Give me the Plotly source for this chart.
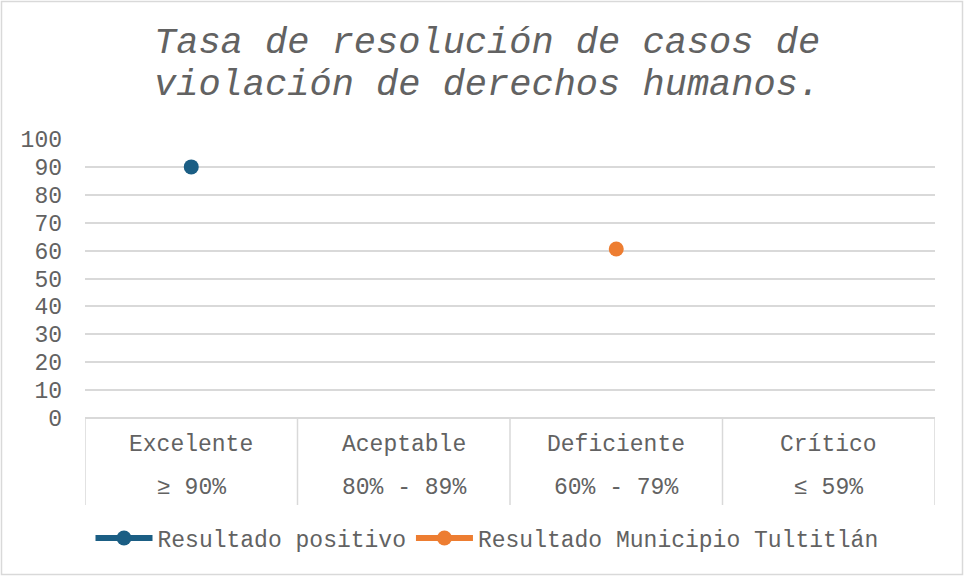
import plotly.graph_objects as go

# Categorías de evaluación y sus rangos
categorias = ["Excelente", "Aceptable", "Deficiente", "Crítico"]
rangos = ["≥ 90%", "80% - 89%", "60% - 79%", "≤ 59%"]

# Series
positivo_cat = ["Excelente"]
positivo_val = [90]
municipio_cat = ["Deficiente"]
municipio_val = [60.6]

y_ticks = list(range(0, 101, 10))

titulo = ["Tasa de resolución de casos de", "violación de derechos humanos."]

AZUL = "#1B5E84"
NARANJA = "#ED7D31"
GRIS = "#626262"
GRID = "#D9D9D9"
FUENTE = "Courier New, Liberation Mono, monospace"

W, H = 964, 576
L, R, T, B = 85, 29, 139, 158
plot_w = W - L - R
plot_h = H - T - B


def py(pix):
    """Convierte una coordenada vertical en píxeles a fracción del área de trazado."""
    return (H - B - pix) / plot_h


def px(pix):
    return (pix - L) / plot_w


fig = go.Figure()
fig.add_trace(go.Scatter(
    x=positivo_cat, y=positivo_val, name="Resultado positivo",
    mode="lines+markers",
    line=dict(color=AZUL, width=6),
    marker=dict(color=AZUL, size=15),
))
fig.add_trace(go.Scatter(
    x=municipio_cat, y=municipio_val, name="Resultado Municipio Tultitlán",
    mode="lines+markers",
    line=dict(color=NARANJA, width=6),
    marker=dict(color=NARANJA, size=15),
))

shapes = []
# Divisiones de la tabla de categorías bajo el eje
for i in range(len(categorias) + 1):
    shapes.append(dict(
        type="line", xref="x", yref="paper",
        x0=i - 0.5, x1=i - 0.5, y0=0, y1=py(505),
        line=dict(color=GRID, width=1.5),
    ))
# Marco del gráfico
shapes.append(dict(
    type="rect", xref="paper", yref="paper",
    x0=px(1.5), x1=px(962.5), y0=py(574.5), y1=py(1.5),
    line=dict(color=GRID, width=1.5), fillcolor="rgba(0,0,0,0)", layer="below",
))

annotations = []
# Título en dos líneas
for linea, yc in zip(titulo, [43, 85]):
    annotations.append(dict(
        x=px(487), y=py(yc), xref="paper", yref="paper",
        xanchor="center", yanchor="middle", text=linea, showarrow=False,
        font=dict(family=FUENTE, size=37, color=GRIS, style="italic"),
    ))
for c, r in zip(categorias, rangos):
    annotations.append(dict(
        x=c, y=py(445), xref="x", yref="paper", text=c, showarrow=False,
        font=dict(family=FUENTE, size=23, color=GRIS), yanchor="middle",
    ))
    annotations.append(dict(
        x=c, y=py(488), xref="x", yref="paper", text=r, showarrow=False,
        font=dict(family=FUENTE, size=23, color=GRIS), yanchor="middle",
    ))

fig.update_layout(
    width=W, height=H,
    margin=dict(l=L, r=R, t=T, b=B),
    paper_bgcolor="white", plot_bgcolor="white",
    xaxis=dict(
        type="category", categoryorder="array", categoryarray=categorias,
        range=[-0.5, len(categorias) - 0.5],
        showticklabels=False, showgrid=False, zeroline=False, showline=False,
        fixedrange=True,
    ),
    yaxis=dict(
        range=[0, 100], tickvals=y_ticks,
        showgrid=True, gridcolor=GRID, gridwidth=1.5,
        zeroline=True, zerolinecolor=GRID, zerolinewidth=1.5,
        showline=False, ticks="", ticklabelstandoff=22,
        tickfont=dict(family=FUENTE, size=23, color=GRIS),
    ),
    legend=dict(
        orientation="h", xref="container", yref="container",
        x=487 / W, xanchor="center", y=1 - 538 / H, yanchor="middle",
        font=dict(family=FUENTE, size=23, color=GRIS),
        itemsizing="trace", itemwidth=57,
    ),
    showlegend=True,
    shapes=shapes,
    annotations=annotations,
)

fig.write_html("out.html")
